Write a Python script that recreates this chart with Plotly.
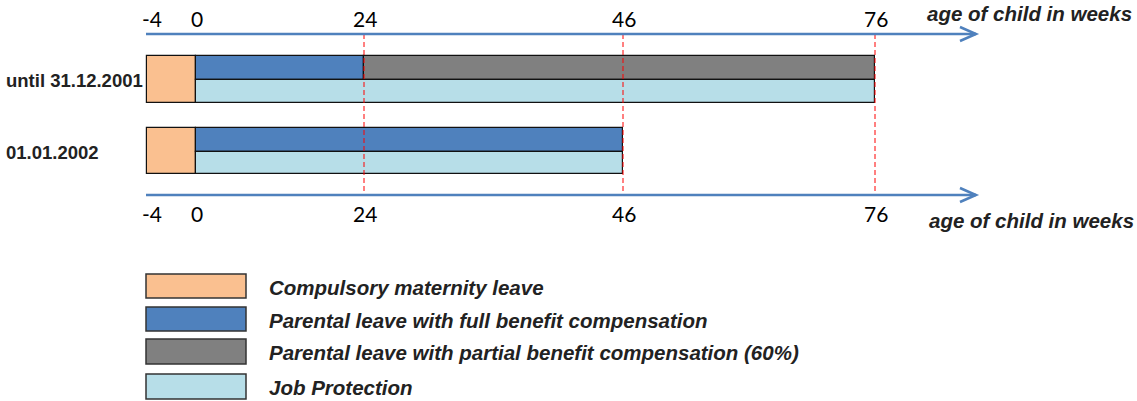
import numpy as np
import plotly.graph_objects as go

# ---------------- data ----------------
periods = ["until 31.12.2001", "01.01.2002"]
maternity_start = [-4, -4]
maternity_end = [0, 0]
full_benefit_end = [24, 46]
partial_benefit_end = [76, None]
job_protection_end = [76, 46]

tick_weeks = [-4, 0, 24, 46, 76]
tick_labels = ["-4", "0", "24", "46", "76"]
marker_weeks = [24, 46, 76]
axis_title = "age of child in weeks"

legend_labels = [
    "Compulsory maternity leave",
    "Parental leave with full benefit compensation",
    "Parental leave with partial benefit compensation (60%)",
    "Job Protection",
]

# ---------------- layout / styles ----------------
W, H = 1137, 401
tick_pos = [147, 196, 364, 623, 875]   # schematic (non-linear) display scale
def X(w):
    return float(np.interp(w, tick_weeks, tick_pos))

C_MAT = "#FAC090"
C_FULL = "#4F81BD"
C_PART = "#808080"
C_JOB = "#B7DEE8"
C_AXIS = "#4F81BD"
colors = [C_MAT, C_FULL, C_PART, C_JOB]

row_top = [56, 128]
row_mid = [80, 152]
row_bot = [103, 174]
axis_y_top, axis_y_bot = 34, 195
arrow_end = 976

fig = go.Figure()
line = dict(color="#111111", width=1.2)

def add_bar(x0, x1, y0, y1, color):
    fig.add_trace(go.Bar(
        orientation="h", y=[(y0 + y1) / 2], x=[X(x1) - X(x0)], base=[X(x0)],
        width=[y1 - y0], marker=dict(color=color, line=line),
        showlegend=False, hoverinfo="skip"))

for i, p in enumerate(periods):
    add_bar(maternity_start[i], maternity_end[i], row_top[i], row_bot[i], C_MAT)
    add_bar(maternity_end[i], full_benefit_end[i], row_top[i], row_mid[i], C_FULL)
    if partial_benefit_end[i] is not None:
        add_bar(full_benefit_end[i], partial_benefit_end[i], row_top[i], row_mid[i], C_PART)
    add_bar(maternity_end[i], job_protection_end[i], row_mid[i], row_bot[i], C_JOB)
    fig.add_annotation(x=4, y=(row_top[i] + row_bot[i]) / 2 + 1, text=f"<b>{p}</b>",
                       showarrow=False, xanchor="left", yanchor="middle",
                       font=dict(family="Liberation Sans, Arial", size=18.5, color="#222222"))

shapes = []
# dashed markers
for w in marker_weeks:
    shapes.append(dict(type="line", x0=X(w), x1=X(w), y0=axis_y_top, y1=axis_y_bot,
                       line=dict(color="#FF0000", width=1, dash="5px,3px"), layer="above"))
# axis arrows
for ay in (axis_y_top, axis_y_bot):
    shapes.append(dict(type="line", x0=X(-4) - 1, x1=arrow_end, y0=ay, y1=ay,
                       line=dict(color=C_AXIS, width=2.5)))
    shapes.append(dict(type="path",
                       path=f"M {arrow_end-16},{ay-7} L {arrow_end},{ay} L {arrow_end-16},{ay+7}",
                       line=dict(color=C_AXIS, width=2.5)))
fig.update_layout(shapes=shapes)

tick_font = dict(family="Lato, Liberation Sans", size=21, color="#000000")
for w, lab in zip(tick_weeks, tick_labels):
    xx = X(w) + (5 if w == -4 else 1)
    fig.add_annotation(x=xx, y=18, text=lab, showarrow=False, font=tick_font,
                       xanchor="center", yanchor="middle")
    fig.add_annotation(x=xx, y=213, text=lab, showarrow=False, font=tick_font,
                       xanchor="center", yanchor="middle")

title_font = dict(family="Liberation Sans, Arial", size=20.5, color="#222222")
fig.add_annotation(x=1134, y=13, text=f"<b><i>{axis_title}</i></b>", showarrow=False,
                   xanchor="right", yanchor="middle", font=title_font)
fig.add_annotation(x=1136, y=220, text=f"<b><i>{axis_title}</i></b>", showarrow=False,
                   xanchor="right", yanchor="middle", font=title_font)

# legend
leg_boxes = [(274, 298), (307, 331), (339, 364), (374, 399)]
for (y0, y1), lab, col in zip(leg_boxes, legend_labels, colors):
    fig.add_shape(type="rect", x0=146, x1=246, y0=y0, y1=y1,
                  fillcolor=col, line=dict(color="#333333", width=1.5))
    fig.add_annotation(x=267, y=(y0 + y1) / 2 + 1, text=f"<b><i>{lab}</i></b>", showarrow=False,
                       xanchor="left", yanchor="middle",
                       font=dict(family="Liberation Sans, Arial", size=20.5, color="#222222"))

fig.update_layout(
    width=W, height=H, margin=dict(l=0, r=0, t=0, b=0),
    paper_bgcolor="white", plot_bgcolor="white",
    barmode="overlay", bargap=0,
    xaxis=dict(range=[0, W], visible=False, fixedrange=True),
    yaxis=dict(range=[H, 0], visible=False, fixedrange=True),
    showlegend=False,
)

fig.write_html("out.html", config={"displayModeBar": False},
               post_script="document.body.style.margin='0px';document.body.style.overflow='hidden';")
